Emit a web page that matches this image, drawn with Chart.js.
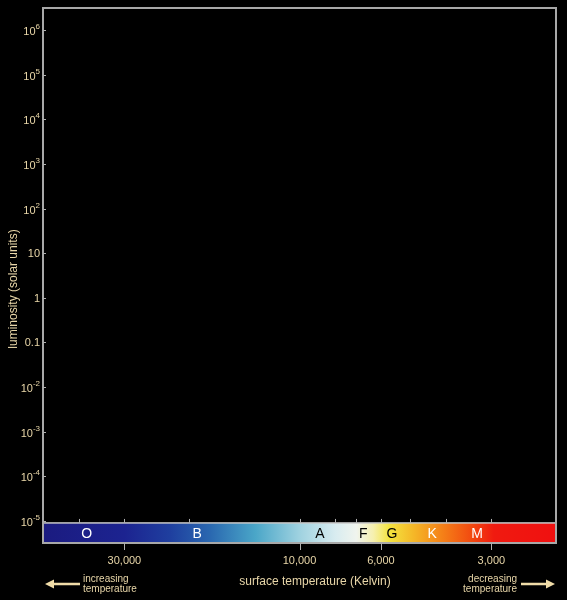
<!DOCTYPE html>
<html><head><meta charset="utf-8">
<script src="https://cdn.jsdelivr.net/npm/chart.js@4/dist/chart.umd.min.js"></script>
<style>html,body{margin:0;padding:0;background:#000;}canvas{display:block;}</style>
</head><body>
<canvas id="c" width="567" height="600"></canvas>
<script>
// ---- data ----
const lumTickValues = [1e6, 1e5, 1e4, 1e3, 1e2, 10, 1, 0.1, 1e-2, 1e-3, 1e-4, 1e-5];
const lumTickLabels = ['10^6', '10^5', '10^4', '10^3', '10^2', '10', '1', '0.1', '10^-2', '10^-3', '10^-4', '10^-5'];
const tempLabeledTicks = [30000, 10000, 6000, 3000];
const tempTickLabels = ['30,000', '10,000', '6,000', '3,000'];
const tempMinorTicks = [40000, 30000, 20000, 10000, 8000, 7000, 6000, 5000, 4000, 3000];
const spectralClasses = ['O', 'B', 'A', 'F', 'G', 'K', 'M'];
const spectralLabelTemps = [38000, 19000, 8800, 6700, 5600, 4350, 3280];
const gradientTemps = [50000, 30000, 22500, 17500, 13200, 10000, 8000, 7000, 6300, 5700, 4900, 4100, 3400, 2950, 2000];

// ---- styles ----
const gradientColors = ['#1b1b80', '#1c2390', '#1f3f9f', '#2a68b0', '#4aa6c8', '#9fd2e0', '#d8ecf0', '#f0f4ee', '#f6f0b0', '#f4e440', '#f5b828', '#f58218', '#f24a10', '#f01a10', '#f01010'];
const spectralTextColors = ['#ffffff', '#ffffff', '#000000', '#000000', '#000000', '#ffffff', '#ffffff'];
const LABEL = 'rgb(232,214,168)';
const FRAME = '#a8a8a8';
const FONT = '"Liberation Sans", Arial, Helvetica, sans-serif';

const hrPlugin = {
  id: 'hr',
  beforeDraw(chart) {
    const c = chart.ctx;
    c.save();
    c.fillStyle = '#000';
    c.fillRect(0, 0, chart.width, chart.height);
    c.restore();
  },
  afterDraw(chart) {
    const c = chart.ctx;
    const a = chart.chartArea;
    const xs = chart.scales.x, ys = chart.scales.y;
    c.save();
    // spectral colour bar
    const barTop = ys.getPixelForValue(Math.pow(10, -5.05));
    const barBot = a.bottom;
    const g = c.createLinearGradient(a.left, 0, a.right, 0);
    gradientTemps.forEach((t, i) => {
      let f = (xs.getPixelForValue(t) - a.left) / (a.right - a.left);
      f = Math.min(1, Math.max(0, f));
      g.addColorStop(f, gradientColors[i]);
    });
    c.fillStyle = g;
    c.fillRect(a.left, barTop, a.right - a.left, barBot - barTop);
    c.strokeStyle = '#c8c8c8';
    c.lineWidth = 1.5;
    c.strokeRect(a.left, barTop, a.right - a.left, barBot - barTop);

    // spectral letters
    c.font = '14px ' + FONT;
    c.textAlign = 'center';
    c.textBaseline = 'middle';
    spectralClasses.forEach((s, i) => {
      c.fillStyle = spectralTextColors[i];
      c.fillText(s, xs.getPixelForValue(spectralLabelTemps[i]), (barTop + barBot) / 2 + 1);
    });

    // frame
    c.strokeStyle = FRAME;
    c.lineWidth = 2;
    c.strokeRect(a.left, a.top, a.right - a.left, a.bottom - a.top);

    // temperature ticks
    c.strokeStyle = '#b0b0b0';
    c.lineWidth = 1;
    tempMinorTicks.forEach(t => {
      const x = Math.round(xs.getPixelForValue(t)) + 0.5;
      c.beginPath(); c.moveTo(x, barTop - 4); c.lineTo(x, barTop); c.stroke();
    });
    tempLabeledTicks.forEach(t => {
      const x = Math.round(xs.getPixelForValue(t)) + 0.5;
      c.beginPath(); c.moveTo(x, barBot); c.lineTo(x, barBot + 7); c.stroke();
    });
    c.fillStyle = LABEL;
    c.font = '11px ' + FONT;
    c.textAlign = 'center';
    c.textBaseline = 'middle';
    tempLabeledTicks.forEach((t, i) => {
      c.fillText(tempTickLabels[i], xs.getPixelForValue(t), 561);
    });

    // luminosity ticks
    c.strokeStyle = '#b0b0b0';
    lumTickValues.forEach((v, i) => {
      const y = Math.round(ys.getPixelForValue(v)) + 0.5;
      c.beginPath(); c.moveTo(a.left, y); c.lineTo(a.left + 3, y); c.stroke();
      const lab = lumTickLabels[i];
      const right = 40;
      c.fillStyle = LABEL;
      c.textBaseline = 'middle';
      c.textAlign = 'right';
      if (lab.indexOf('^') >= 0) {
        const [base, exp] = lab.split('^');
        c.font = '8px ' + FONT;
        const ew = c.measureText(exp).width;
        c.fillText(exp, right, y - 4);
        c.font = '11px ' + FONT;
        c.fillText(base, right - ew, y + 1);
      } else {
        c.font = '11px ' + FONT;
        c.fillText(lab, right, y);
      }
    });

    // axis titles
    c.fillStyle = LABEL;
    c.font = '12px ' + FONT;
    c.textAlign = 'center';
    c.textBaseline = 'middle';
    c.fillText('surface temperature (Kelvin)', 315, 582);
    c.save();
    c.translate(14, 289);
    c.rotate(-Math.PI / 2);
    c.fillText('luminosity (solar units)', 0, 0);
    c.restore();

    // arrows + notes
    c.font = '10px ' + FONT;
    c.textAlign = 'left';
    c.fillText('increasing', 83, 579.5);
    c.fillText('temperature', 83, 589.5);
    c.textAlign = 'right';
    c.fillText('decreasing', 517, 579.5);
    c.fillText('temperature', 517, 589.5);
    const ARROW = 'rgb(240,220,168)';
    c.strokeStyle = ARROW; c.fillStyle = ARROW; c.lineWidth = 2.5;
    c.beginPath(); c.moveTo(80, 584); c.lineTo(51, 584); c.stroke();
    c.beginPath(); c.moveTo(45, 584); c.lineTo(54, 579.5); c.lineTo(54, 588.5); c.closePath(); c.fill();
    c.beginPath(); c.moveTo(521, 584); c.lineTo(549, 584); c.stroke();
    c.beginPath(); c.moveTo(555, 584); c.lineTo(546, 579.5); c.lineTo(546, 588.5); c.closePath(); c.fill();
    c.restore();
  }
};

new Chart(document.getElementById('c'), {
  type: 'scatter',
  data: { datasets: [{ data: [] }] },
  options: {
    responsive: false,
    animation: false,
    layout: { padding: { left: 43, top: 8, right: 11, bottom: 57 } },
    plugins: { legend: { display: false }, tooltip: { enabled: false } },
    scales: {
      x: { type: 'logarithmic', reverse: true, min: 2000, max: 50000, bounds: 'data', display: false },
      y: { type: 'logarithmic', min: Math.pow(10, -5.5), max: Math.pow(10, 6.5), bounds: 'data', display: false }
    }
  },
  plugins: [hrPlugin]
});
</script>
</body></html>
